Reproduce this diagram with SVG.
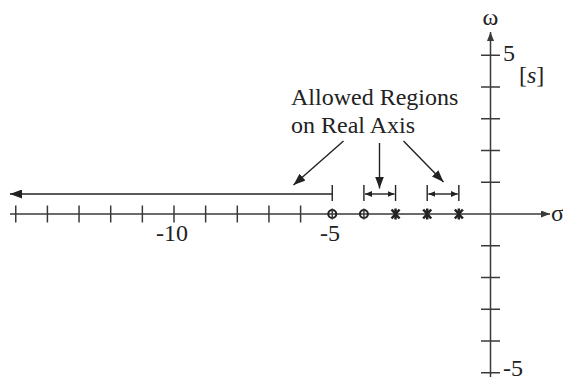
<svg xmlns="http://www.w3.org/2000/svg" width="563" height="380" viewBox="0 0 563 380">
<defs>
<style>
.ax{stroke:#3a3a3a;stroke-width:1.5;fill:none}
.tk{stroke:#3a3a3a;stroke-width:1.5}
.ln{stroke:#222;stroke-width:1.4;fill:none}
.pole{stroke:#222;stroke-width:2.5;fill:none}
.zero{stroke:#222;stroke-width:2;fill:none}
</style>
<marker id="ah" markerUnits="userSpaceOnUse" markerWidth="13" markerHeight="9" refX="12" refY="4.5" orient="auto">
<path d="M0,0 L12,4.5 L0,9 z" fill="#222"/>
</marker>
<marker id="axh" markerUnits="userSpaceOnUse" markerWidth="10" markerHeight="7" refX="9" refY="3.5" orient="auto">
<path d="M0,0 L9,3.5 L0,7 z" fill="#3a3a3a"/>
</marker>
<marker id="sh" markerUnits="userSpaceOnUse" markerWidth="8" markerHeight="6" refX="7" refY="3" orient="auto-start-reverse">
<path d="M0,0 L7,3 L0,6 z" fill="#222"/>
</marker>
</defs>
<g font-family="'Liberation Serif', 'Times New Roman', serif" font-size="24" fill="#222">

<g id="real-axis">
<line class="ax" x1="10" y1="214" x2="550" y2="214" marker-end="url(#axh)"/>
<text x="551" y="221">σ</text>
<g class="tk">
<line x1="15.75" y1="205.5" x2="15.75" y2="222.5"/>
<line x1="47.4" y1="205.5" x2="47.4" y2="222.5"/>
<line x1="79.05" y1="205.5" x2="79.05" y2="222.5"/>
<line x1="110.7" y1="205.5" x2="110.7" y2="222.5"/>
<line x1="142.35" y1="205.5" x2="142.35" y2="222.5"/>
<line x1="174" y1="205.5" x2="174" y2="222.5"/>
<line x1="205.65" y1="205.5" x2="205.65" y2="222.5"/>
<line x1="237.3" y1="205.5" x2="237.3" y2="222.5"/>
<line x1="268.95" y1="205.5" x2="268.95" y2="222.5"/>
<line x1="300.6" y1="205.5" x2="300.6" y2="222.5"/>
</g>
<text x="156" y="241">-10</text>
<text x="320" y="241">-5</text>
</g>

<g id="imag-axis">
<line class="ax" x1="490.5" y1="377" x2="490.5" y2="32" marker-end="url(#axh)"/>
<text x="490.5" y="25" text-anchor="middle">ω</text>
<g class="tk">
<line x1="481" y1="55.25" x2="500" y2="55.25"/>
<line x1="481" y1="87" x2="500" y2="87"/>
<line x1="481" y1="118.75" x2="500" y2="118.75"/>
<line x1="481" y1="150.5" x2="500" y2="150.5"/>
<line x1="481" y1="182.25" x2="500" y2="182.25"/>
<line x1="481" y1="245.75" x2="500" y2="245.75"/>
<line x1="481" y1="277.5" x2="500" y2="277.5"/>
<line x1="481" y1="309.25" x2="500" y2="309.25"/>
<line x1="481" y1="341" x2="500" y2="341"/>
<line x1="481" y1="372.75" x2="500" y2="372.75"/>
</g>
<text x="503" y="61">5</text>
<text x="503" y="376">-5</text>
<text x="519" y="83">[<tspan font-style="italic">s</tspan>]</text>
</g>

<g id="zero-1">
<circle class="zero" cx="332.25" cy="214" r="4"/>
<line class="tk" x1="332.25" y1="208.5" x2="332.25" y2="219.5" stroke-width="2"/>
</g>
<g id="zero-2">
<circle class="zero" cx="363.9" cy="214" r="4"/>
<line class="tk" x1="363.9" y1="208.5" x2="363.9" y2="219.5" stroke-width="2"/>
</g>
<g id="pole-1">
<path class="pole" d="M391.55,209.5 L399.55,218.5 M399.55,209.5 L391.55,218.5 M395.55,208.5 L395.55,219.5"/>
</g>
<g id="pole-2">
<path class="pole" d="M423.2,209.5 L431.2,218.5 M431.2,209.5 L423.2,218.5 M427.2,208.5 L427.2,219.5"/>
</g>
<g id="pole-3">
<path class="pole" d="M454.85,209.5 L462.85,218.5 M462.85,209.5 L454.85,218.5 M458.85,208.5 L458.85,219.5"/>
</g>

<g id="label">
<text x="291" y="105">Allowed Regions</text>
<text x="291" y="133">on Real Axis</text>
</g>

<g id="regions">
<line class="ln" x1="332.25" y1="185" x2="332.25" y2="201"/>
<line class="ln" x1="332.25" y1="194" x2="10" y2="194" marker-end="url(#ah)"/>
<line class="ln" x1="363.9" y1="185" x2="363.9" y2="201"/>
<line class="ln" x1="395.55" y1="185" x2="395.55" y2="201"/>
<line class="ln" x1="365" y1="194" x2="394.5" y2="194" marker-start="url(#sh)" marker-end="url(#sh)"/>
<line class="ln" x1="427.2" y1="185" x2="427.2" y2="201"/>
<line class="ln" x1="458.85" y1="185" x2="458.85" y2="201"/>
<line class="ln" x1="428.3" y1="194" x2="457.8" y2="194" marker-start="url(#sh)" marker-end="url(#sh)"/>
</g>

<g id="connectors">
<line class="ln" x1="343.5" y1="141" x2="293.5" y2="185" marker-end="url(#ah)"/>
<line class="ln" x1="379.5" y1="143" x2="379.5" y2="188.5" marker-end="url(#ah)"/>
<line class="ln" x1="403.5" y1="141" x2="443.5" y2="182" marker-end="url(#ah)"/>
</g>
</g>
</svg>
